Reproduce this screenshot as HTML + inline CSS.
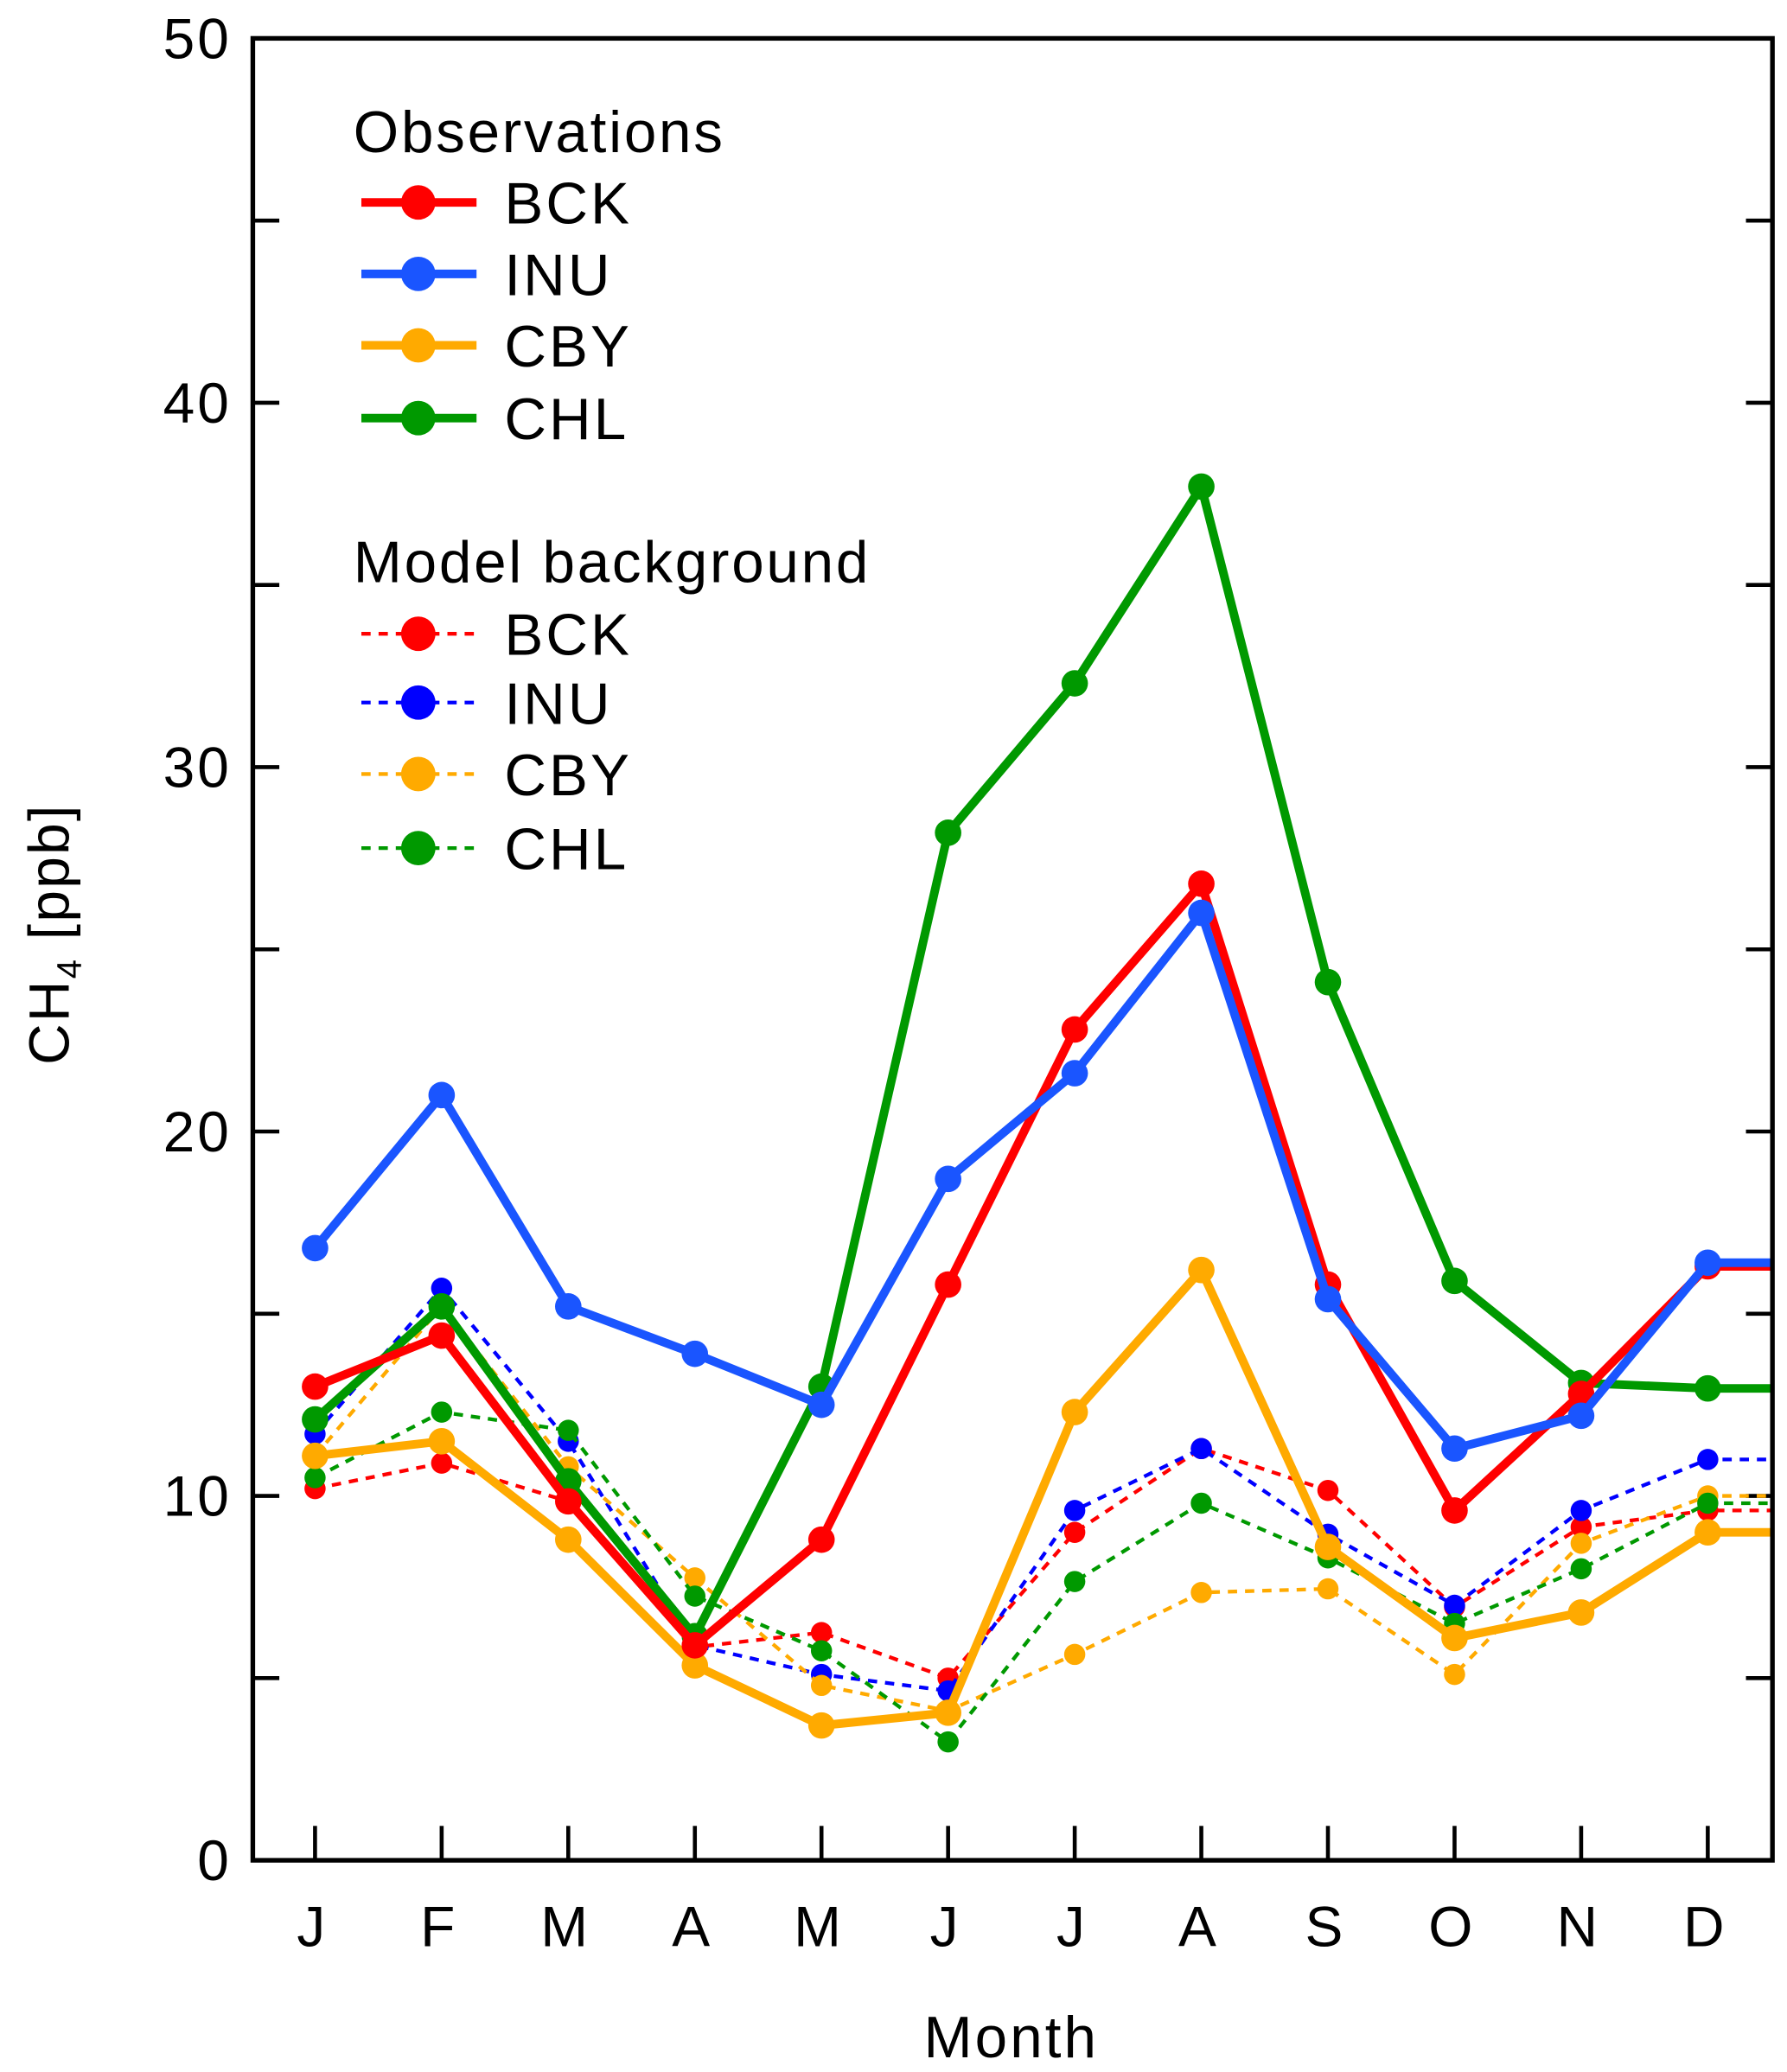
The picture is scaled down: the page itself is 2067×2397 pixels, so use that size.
<!DOCTYPE html>
<html><head><meta charset="utf-8"><style>
html,body{margin:0;padding:0;background:#fff}
svg{display:block;font-family:"Liberation Sans",sans-serif}
</style></head><body>
<svg id="chart" width="2067" height="2397" viewBox="0 0 1350 1566" preserveAspectRatio="none">
<g id="axes"></g>
<g id="series"></g>
<g id="legend"></g>
</svg>
<script>
const months = ["J","F","M","A","M","J","J","A","S","O","N","D"];
const yTicks = [0,10,20,30,40,50];
const obsBCK = [13.0,14.4,9.85,5.9,8.8,15.8,22.8,26.8,15.8,9.6,12.8,16.3];
const obsINU = [16.8,21.0,15.2,13.9,12.5,18.7,21.6,26.0,15.4,11.3,12.2,16.4];
const obsCBY = [11.1,11.5,8.8,5.35,3.7,4.05,12.3,16.2,8.6,6.1,6.8,9.0];
const obsCHL = [12.1,15.2,10.4,6.15,13.0,28.2,32.3,37.7,24.1,15.9,13.1,12.95];
const modBCK = [10.2,10.9,9.85,5.85,6.25,5.0,9.0,11.3,10.15,6.95,9.15,9.6];
const modINU = [11.7,15.7,11.5,5.9,5.1,4.65,9.6,11.3,8.95,7.0,9.6,11.0];
const modCBY = [11.1,15.2,10.8,7.75,4.8,4.1,5.65,7.35,7.45,5.1,8.7,10.0];
const modCHL = [10.5,12.3,11.8,7.25,5.75,3.25,7.65,9.8,8.3,6.5,8.0,9.8];

const NS="http://www.w3.org/2000/svg";
const L=191,R=1339,T=29,B=1406;
const x=i=>238+95.65*i;
const y=v=>B-(v/50)*(B-T);
function mk(tag,attrs,parent,text){const e=document.createElementNS(NS,tag);for(const k in attrs)e.setAttribute(k,attrs[k]);if(text!==undefined)e.textContent=text;parent.appendChild(e);return e;}
const axes=document.getElementById('axes'),series=document.getElementById('series'),legend=document.getElementById('legend');

for(let v=0;v<=50;v+=5){
  const t1=mk('line',{x1:L,x2:L+20,y1:y(v),y2:y(v),stroke:'#000','stroke-width':3},axes);
  
  
  const t2=mk('line',{x1:R-20,x2:R,y1:y(v),y2:y(v),stroke:'#000','stroke-width':3},axes);
  
  
}
yTicks.forEach(v=>{
  const t=mk('text',{x:175,y:y(v)+15,'text-anchor':'end','font-size':43,'letter-spacing':2},axes,String(v));
  
  
});
months.forEach((m,i)=>{
  const tk=mk('line',{x1:x(i),x2:x(i),y1:B,y2:B-26,stroke:'#000','stroke-width':3},axes);
  
  
  const t=mk('text',{x:x(i)-3,y:1471,'text-anchor':'middle','font-size':43},axes,m);
  
  
});
const xt=mk('text',{x:764,y:1555,'text-anchor':'middle','font-size':44,'letter-spacing':2},axes,'Month');


const yt=mk('text',{transform:'translate(52,706) rotate(-90)','text-anchor':'middle','font-size':43,'letter-spacing':1.5},axes);


yt.innerHTML='CH<tspan font-size="26" dy="9">4</tspan><tspan dy="-9"> [ppb]</tspan>';

const defs=[
 {d:modBCK,c:'#ff0000',n:'model-bck'},{d:modINU,c:'#0000ff',n:'model-inu'},
 {d:modCBY,c:'#ffaa00',n:'model-cby'},{d:modCHL,c:'#009900',n:'model-chl'},
 {d:obsCBY,c:'#ffaa00',n:'obs-cby',o:1},{d:obsCHL,c:'#009900',n:'obs-chl',o:1},
 {d:obsBCK,c:'#ff0000',n:'obs-bck',o:1},{d:obsINU,c:'#1a55ff',n:'obs-inu',o:1}
];
defs.forEach(s=>{
  const g=mk('g',{},series);
  
  
  let pts=s.d.map((v,i)=>x(i)+','+y(v)).join(' ')+' '+R+','+y(s.d[11]);
  const pl=mk('polyline',{points:pts,fill:'none',stroke:s.c,'stroke-width':s.o?6.5:2.8,'stroke-dasharray':s.o?'none':'7,6','stroke-linejoin':'round'},g);
  
  
  s.d.forEach((v,i)=>{
    const c=mk('circle',{cx:x(i),cy:y(v),r:s.o?10:8,fill:s.c},g);
    
    
  });
});
const box=mk('rect',{x:L,y:T,width:R-L,height:B-T,fill:'none',stroke:'#000','stroke-width':3.5},axes);


series.parentNode.appendChild(axes.removeChild(box));

const h1=mk('text',{x:267,y:115,'font-size':44,'letter-spacing':1.8},legend,'Observations');


const h2=mk('text',{x:267,y:440,'font-size':44,'letter-spacing':1.8},legend,'Model background');


const le=[['BCK','#ff0000',153,1],['INU','#1a55ff',207,1],['CBY','#ffaa00',261,1],['CHL','#009900',316,1],
 ['BCK','#ff0000',479,0],['INU','#0000ff',531,0],['CBY','#ffaa00',585,0],['CHL','#009900',641,0]];
le.forEach(e=>{
  const g=mk('g',{},legend);
  
  
  mk('line',{x1:273,x2:360,y1:e[2],y2:e[2],stroke:e[1],'stroke-width':e[3]?6.5:2.8,'stroke-dasharray':e[3]?'none':'7,6'},g);
  mk('circle',{cx:316,cy:e[2],r:13,fill:e[1]},g);
  mk('text',{x:381,y:e[2]+16,'font-size':44,'letter-spacing':2},g,e[0]);
});
</script>
</body></html>
